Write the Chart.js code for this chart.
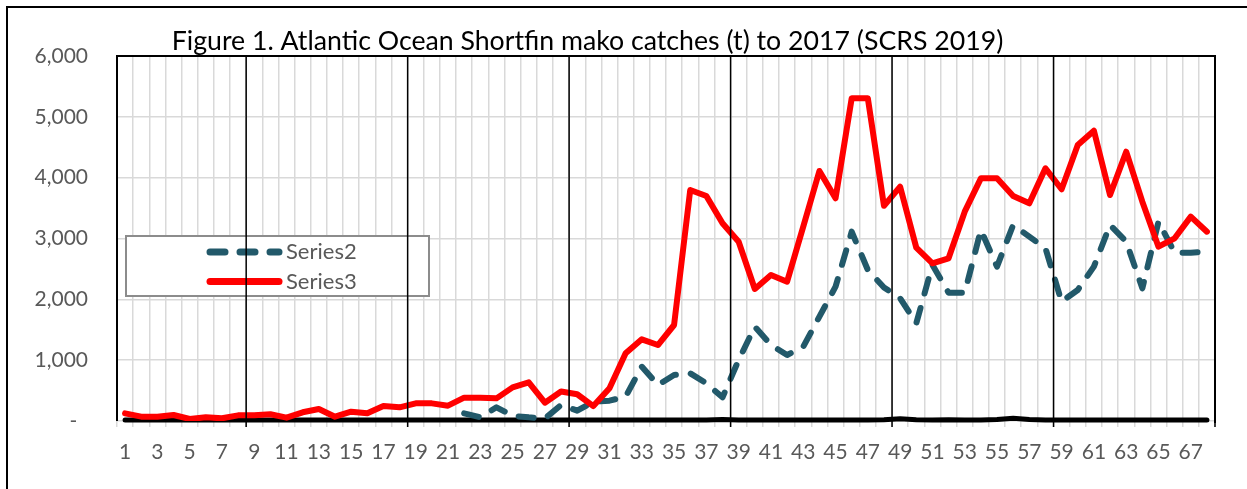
<!DOCTYPE html>
<html>
<head>
<meta charset="utf-8">
<script src="https://cdn.jsdelivr.net/npm/chart.js@4.4.1/dist/chart.umd.min.js"></script>
<style>
  html, body { margin: 0; padding: 0; background: #fff; }
  #wrap { position: relative; width: 1247px; height: 489px; }
</style>
</head>
<body>
<div id="wrap"><canvas id="chart" width="1247" height="489"></canvas></div>
<script>
const titleText = "Figure 1. Atlantic Ocean Shortfin mako catches (t) to 2017 (SCRS 2019)";

const categories = ["1","2","3","4","5","6","7","8","9","10","11","12","13","14","15","16","17","18","19","20",
  "21","22","23","24","25","26","27","28","29","30","31","32","33","34","35","36","37","38","39","40",
  "41","42","43","44","45","46","47","48","49","50","51","52","53","54","55","56","57","58","59","60",
  "61","62","63","64","65","66","67","68"];

// near-zero series drawn as the thick black base line
const series1 = [15,15,15,15,15,15,15,15,15,15,15,15,15,15,15,15,15,15,15,15,
  15,15,15,15,15,15,15,15,15,15,15,15,15,15,15,15,15,25,15,15,
  15,15,15,15,15,15,15,20,35,20,15,20,15,15,25,45,25,15,15,15,
  15,15,15,15,15,15,15,15];

const series2 = [null,null,null,null,null,null,null,null,null,null,null,null,null,null,null,null,null,null,null,null,
  null,126,60,225,85,60,42,263,170,318,334,400,893,592,756,784,620,389,1003,1550,
  1249,1085,1222,1715,2208,3112,2482,2195,2017,1606,2565,2109,2109,3140,2537,3222,3030,2839,1962,2154,
  2537,3222,2948,2181,3277,2767,2767,2783];

const series3 = [126,71,71,99,33,60,44,93,93,110,55,143,197,71,153,126,246,225,290,290,
  252,384,384,372,553,636,301,485,440,245,537,1113,1343,1249,1578,3797,3699,3250,2948,2170,
  2400,2290,3194,4110,3661,5305,5305,3537,3852,2850,2592,2674,3441,3989,3989,3699,3578,4154,3809,4537,
  4773,3715,4427,3605,2866,3003,3359,3112];

// black divider lines drawn between categories (every ten)
const separators = [8.5, 18.5, 28.5, 38.5, 48.5, 58.5, 68.5];

const legendItems = ["Series2", "Series3"];

const FONT = "Lato, 'Open Sans', sans-serif";
const GREY = "#595959";

const framePlugin = {
  id: "frame",
  beforeDraw(chart) {
    const ctx = chart.ctx;
    ctx.save();
    ctx.fillStyle = "#fff";
    ctx.fillRect(0, 0, chart.width, chart.height);
    // outer chart border (only left and top are visible in the crop)
    ctx.strokeStyle = "#000";
    ctx.lineWidth = 2;
    ctx.beginPath();
    ctx.moveTo(7, chart.height + 2);
    ctx.lineTo(7, 7);
    ctx.lineTo(chart.width + 2, 7);
    ctx.stroke();
    ctx.restore();
  },
  afterDatasetsDraw(chart) {
    const ctx = chart.ctx;
    const box = { x: 126, y: 236, w: 303, h: 60 };
    ctx.save();
    ctx.fillStyle = "#fff";
    ctx.fillRect(box.x, box.y, box.w, box.h);
    ctx.strokeStyle = "#8c8c8c";
    ctx.lineWidth = 2;
    ctx.strokeRect(box.x, box.y, box.w, box.h);
    legendItems.forEach((name, i) => {
      const ds = chart.data.datasets.find(d => d.label === name);
      const y = box.y + 16 + i * 29.5;
      ctx.strokeStyle = ds.borderColor;
      ctx.lineWidth = ds.borderWidth + 1;
      ctx.lineCap = "round";
      ctx.setLineDash(ds.borderDash || []);
      ctx.beginPath();
      ctx.moveTo(210, y);
      ctx.lineTo(279, y);
      ctx.stroke();
      ctx.setLineDash([]);
      ctx.fillStyle = GREY;
      ctx.font = "22px " + FONT;
      ctx.textBaseline = "middle";
      ctx.textAlign = "left";
      ctx.fillText(name, 286, y);
    });
    ctx.restore();
  },
  afterDraw(chart) {
    const ctx = chart.ctx;
    const a = chart.chartArea;
    const xs = chart.scales.x;
    ctx.save();
    ctx.strokeStyle = "#000";
    ctx.lineWidth = 1.5;
    separators.forEach(s => {
      const px = xs.getPixelForValue(s - 1);
      ctx.beginPath();
      ctx.moveTo(px, a.top);
      ctx.lineTo(px, a.bottom + 6);
      ctx.stroke();
    });
    // plot area frame: left, top, right
    ctx.lineWidth = 2;
    ctx.beginPath();
    ctx.moveTo(a.left, a.bottom);
    ctx.lineTo(a.left, a.top);
    ctx.lineTo(a.right, a.top);
    ctx.lineTo(a.right, a.bottom + 2);
    ctx.stroke();
    // title
    ctx.fillStyle = "#000";
    ctx.font = "26.7px " + FONT;
    ctx.textAlign = "center";
    ctx.textBaseline = "middle";
    ctx.fillText(titleText, 587.5, 41);
    ctx.restore();
  }
};

new Chart(document.getElementById("chart"), {
  type: "line",
  data: {
    labels: categories,
    datasets: [
      {
        label: "Series1",
        data: series1,
        borderColor: "#000",
        borderWidth: 5,
        pointRadius: 0,
        borderCapStyle: "round",
        clip: false,
        order: 2
      },
      {
        label: "Series2",
        data: series2,
        borderColor: "#22596A",
        borderWidth: 6,
        borderDash: [15, 15],
        borderCapStyle: "round",
        borderJoinStyle: "round",
        pointRadius: 0,
        order: 1
      },
      {
        label: "Series3",
        data: series3,
        borderColor: "#FF0000",
        borderWidth: 6,
        borderCapStyle: "round",
        borderJoinStyle: "round",
        pointRadius: 0,
        order: 0
      }
    ]
  },
  options: {
    responsive: false,
    animation: false,
    layout: { padding: { left: 0, right: 32, top: 56, bottom: 0 } },
    plugins: {
      legend: { display: false },
      tooltip: { enabled: false }
    },
    scales: {
      x: {
        offset: true,
        grid: { offset: true, color: "#d9d9d9", lineWidth: 1.5, tickLength: 6 },
        border: { display: false },
        ticks: {
          autoSkip: false,
          maxRotation: 0,
          color: GREY,
          font: { family: FONT, size: 21 },
          padding: 13,
          callback: (v, i) => (i % 2 === 0 ? categories[i] : "")
        },
        afterFit: s => { s.height = 68; }
      },
      y: {
        min: 0,
        max: 6000,
        grid: { color: "#d9d9d9", lineWidth: 1.5, drawTicks: false },
        border: { display: false },
        ticks: {
          stepSize: 1000,
          color: GREY,
          font: { family: FONT, size: 21 },
          padding: 29,
          callback: v => (v === 0 ? "-  " : v.toLocaleString("en-US"))
        },
        afterFit: s => { s.width = 117; }
      }
    }
  },
  plugins: [framePlugin]
});
</script>
</body>
</html>
